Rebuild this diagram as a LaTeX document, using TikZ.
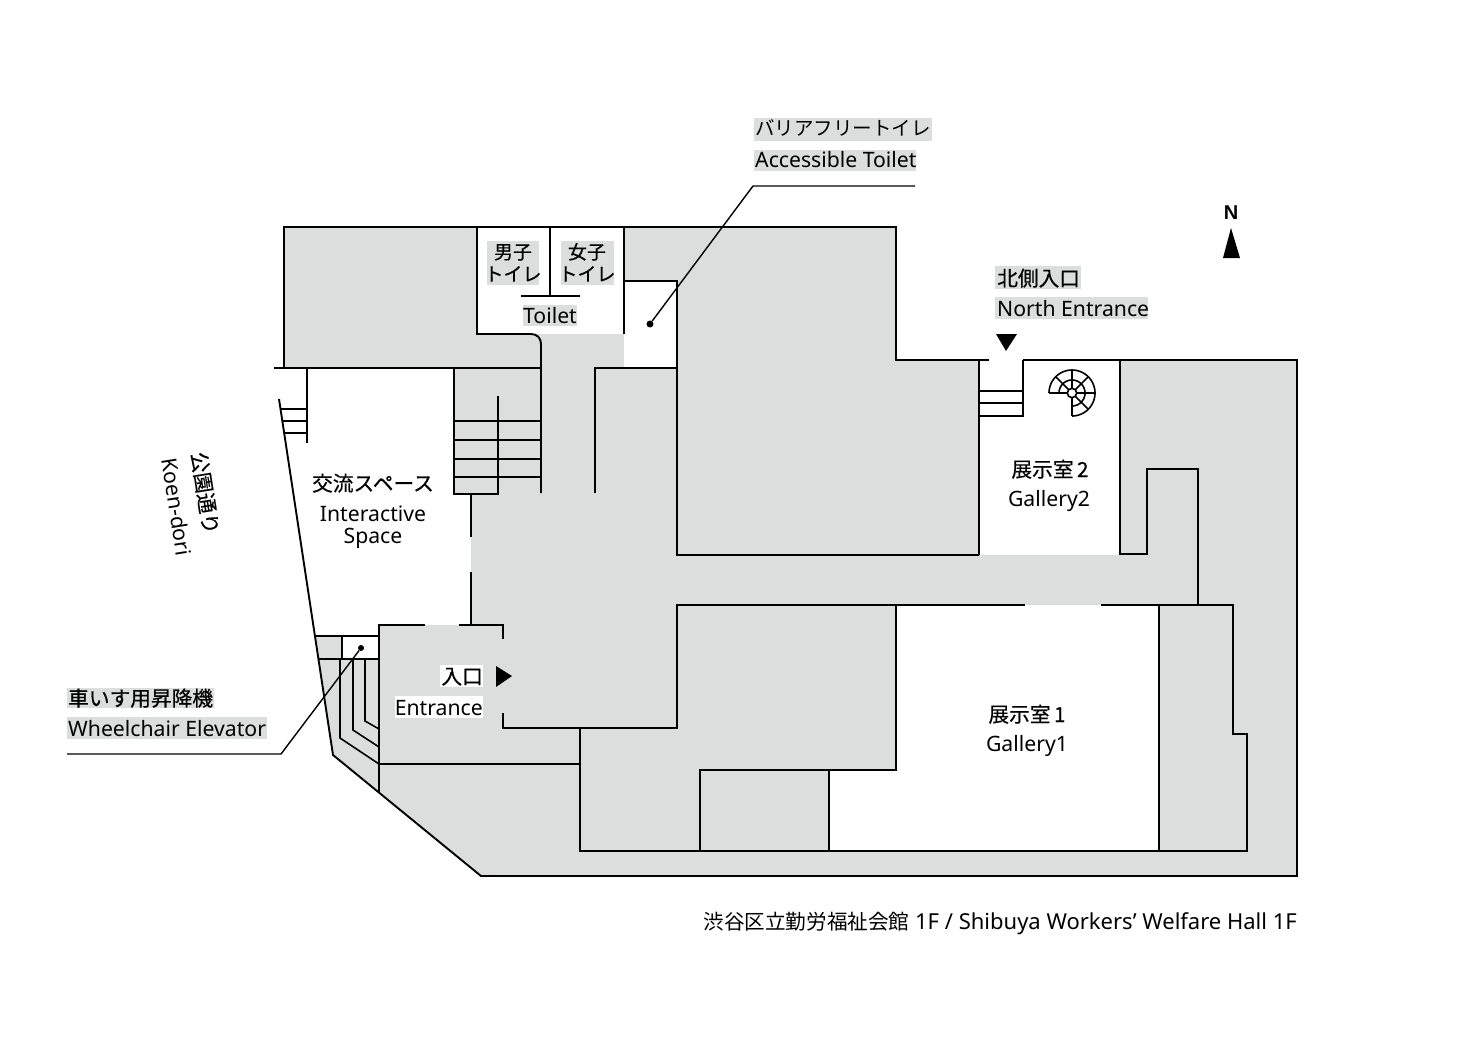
\documentclass[tikz,border=0pt]{standalone}
\usepackage{fontspec}
\setmainfont{Noto Sans}
\newfontfamily\cjk{Noto Sans CJK JP}
\newfontfamily\cjkm[FakeBold=0.45]{Noto Sans CJK JP}
\newfontfamily\northfont{Liberation Sans}
\definecolor{floor}{HTML}{DCDDDD}
\tikzset{
  wall/.style={line width=1.9pt,line cap=butt,line join=miter},
  leader/.style={line width=1.4pt},
  dotmark/.style={circle,fill=black,inner sep=0pt,minimum size=7pt},
  tlabel/.style={inner sep=0pt,text=black},
  mark tri/.style={fill=black},
  en/.style={tlabel,font=\fontsize{21.2}{25}\selectfont},
  jp/.style={tlabel,font=\fontsize{20.7}{24}\cjkm},
  jps/.style={tlabel,font=\fontsize{19}{24}\cjkm},
  jpl/.style={tlabel,font=\fontsize{19.5}{24}\cjk},
}
\begin{document}
\begin{tikzpicture}[x=1pt,y=-1pt]
\useasboundingbox (0,0) rectangle (1475,1043);
% floor fill
\fill[floor] (284,227)--(896,227)--(896,360)--(1297,360)--(1297,876)--(481,876)--(333,755)--(315,636)--(379,636)--(379,625)--(471,625)--(471,494)--(454,494)--(454,368)--(284,368)--cycle;
% white rooms
\fill[white] (477,227) rectangle (624,334);
\fill[white] (624,281) rectangle (676,368);
\fill[white] (979,360) rectangle (1120,555);
\fill[white] (896,605)--(1159,605)--(1159,851)--(829,851)--(829,770)--(896,770)--cycle;
\fill[white] (342,636) rectangle (379,659);
% label backgrounds
\fill[floor] (754,118) rectangle (932,141);
\fill[floor] (754,150) rectangle (916,171);
\fill[floor] (67,688) rectangle (214,708);
\fill[floor] (67,717) rectangle (267,739);
\fill[floor] (995,266) rectangle (1081,289);
\fill[floor] (995,297) rectangle (1148,319);
\fill[floor] (487,241) rectangle (539,285);
\fill[floor] (561,241) rectangle (614,285);
\fill[floor] (523,305) rectangle (577,326);
\fill[white] (440,665) rectangle (483,687);
\fill[white] (395,696) rectangle (483,718);
% walls
\draw[wall] (284,368)--(284,227)--(896,227)--(896,360)--(989,360);
\draw[wall] (1023,360)--(1297,360)--(1297,876)--(481,876)--(333,755)--(279,399);
\draw[wall] (274,368)--(541,368);
\draw[wall] (477,227)--(477,334)--(531,334) .. controls (537,334) and (541,338) .. (541,344)--(541,493);
\draw[wall] (550,227)--(550,296);
\draw[wall] (521,296)--(580,296);
\draw[wall] (624,227)--(624,334);
\draw[wall] (624,281)--(677,281)--(677,555)--(979,555);
\draw[wall] (595,493)--(595,368)--(677,368);
% main stair
\draw[wall] (454,368)--(454,494)--(498,494)--(498,396);
\foreach \yy in {421,440,459,477} \draw[wall] (454,\yy)--(541,\yy);
\draw[wall] (471,494)--(471,537);
\draw[wall] (471,572)--(471,625);
% west stair
\draw[wall] (307,368)--(307,443);
\draw[wall] (281,409)--(307,409);
\draw[wall] (283,421)--(307,421);
\draw[wall] (285,433)--(307,433);
% entrance room
\draw[wall] (425,625)--(379,625)--(379,792);
\draw[wall] (459,625)--(503,625)--(503,639);
\draw[wall] (503,713)--(503,728)--(677,728)--(677,605)--(1025,605);
\draw[wall] (1101,605)--(1233,605)--(1233,734)--(1247,734)--(1247,851)--(580,851)--(580,728);
\draw[wall] (379,764)--(580,764);
% lift and ramps
\draw[wall] (315,636)--(379,636);
\draw[wall] (319,659)--(379,659);
\draw[wall] (342,636)--(342,659);
\draw[wall,line width=1.6pt] (340,659)--(340,738)--(379,764);
\draw[wall,line width=1.6pt] (353,659)--(353,730)--(379,747);
\draw[wall,line width=1.6pt] (365,659)--(365,721)--(379,729);
% gallery 2 side
\draw[wall] (979,360)--(979,555);
\draw[wall] (1023,360)--(1023,416)--(979,416);
\draw[wall] (979,391)--(1023,391);
\draw[wall] (979,403)--(1023,403);
\draw[wall] (1120,360)--(1120,554)--(1147,554)--(1147,469)--(1198,469)--(1198,605);
% gallery 1 side
\draw[wall] (896,605)--(896,770)--(700,770)--(700,851);
\draw[wall] (829,770)--(829,851);
\draw[wall] (1159,605)--(1159,851);
% spiral stair
\begin{scope}[line width=1.6pt]
\draw plot[smooth,domain=180:-90,samples=55] ({1072+23*cos(\x)},{393-23*sin(\x)});
\draw plot[smooth,domain=180:-90,samples=55] ({1072+13*cos(\x)},{393-13*sin(\x)});
\foreach \a in {180,135,90,45,0,-45,-90}
  \draw ({1072+4.7*cos(\a)},{393-4.7*sin(\a)})--({1072+23*cos(\a)},{393-23*sin(\a)});
\draw (1072,393) circle[radius=4.7];
\end{scope}
% triangles
\fill[mark tri] (496,666)--(512,676)--(496,687)--cycle;
\fill[mark tri] (996,334)--(1017,334)--(1006,351)--cycle;
\fill[mark tri] (1223,258)--(1240,258)--(1231,228)--cycle;
% leaders
\node[dotmark] (adot) at (650,324) {};
\coordinate (abend) at (753,186);
\coordinate (aend) at (915,186);
\draw[leader] (adot)--(abend)--(aend);
\node[dotmark,minimum size=6pt] (wdot) at (361,648) {};
\coordinate (wbend) at (281,754);
\coordinate (wend) at (67,754);
\draw[leader] (wdot)--(wbend)--(wend);
% labels
\node[jpl,anchor=base west] (t1) at (755,136) {バリアフリートイレ};
\node[en,anchor=base west] (t2) at (755,168) {Accessible Toilet};
\node[jp,anchor=base west] (t3) at (68,706) {車いす用昇降機};
\node[en,anchor=base west] (t4) at (68,736) {Wheelchair Elevator};
\node[jp,anchor=base west] (t5) at (997,286) {北側入口};
\node[en,anchor=base west] (t6) at (997,316) {North Entrance};
\node[jps,anchor=base] (t7) at (513,259) {男子};
\node[jps,anchor=base] (t8) at (513,281) {トイレ};
\node[jps,anchor=base] (t9) at (587,259) {女子};
\node[jps,anchor=base] (t10) at (587,281) {トイレ};
\node[en,anchor=base] (t11) at (550,323) {Toilet};
\node[jp,anchor=base east] (t12) at (483,684) {入口};
\node[en,anchor=base east] (t13) at (483,715) {Entrance};
\node[jp,anchor=base] (t14) at (373,491) {交流スペース};
\node[en,anchor=base] (t15) at (373,521) {Interactive};
\node[en,anchor=base] (t16) at (373,543) {Space};
\node[jp,anchor=base] (t17) at (1050,477) {展示室\,2};
\node[en,anchor=base] (t18) at (1049,506) {Gallery2};
\node[jp,anchor=base] (t19) at (1027,722) {展示室\,1};
\node[en,anchor=base] (t20) at (1027,751) {Gallery1};
\node[tlabel,font=\fontsize{20}{24}\northfont\bfseries] (t21) at (1231,213) {N};
\node[tlabel,font=\fontsize{20.7}{24}\cjkm,rotate=-81] (t22) at (205,493) {公\kern0.01pt 園\kern0.01pt 通\kern0.01pt り};
\node[en,rotate=-81] (t23) at (177,507) {Koen-dori};
\node[tlabel,anchor=base east,font=\fontsize{22}{25}\selectfont] (t24) at (1297,929) {{\fontsize{20.6}{25}\cjk 渋谷区立勤労福祉会館}\ 1F / Shibuya Workers’ Welfare Hall 1F};
\end{tikzpicture}
\end{document}
